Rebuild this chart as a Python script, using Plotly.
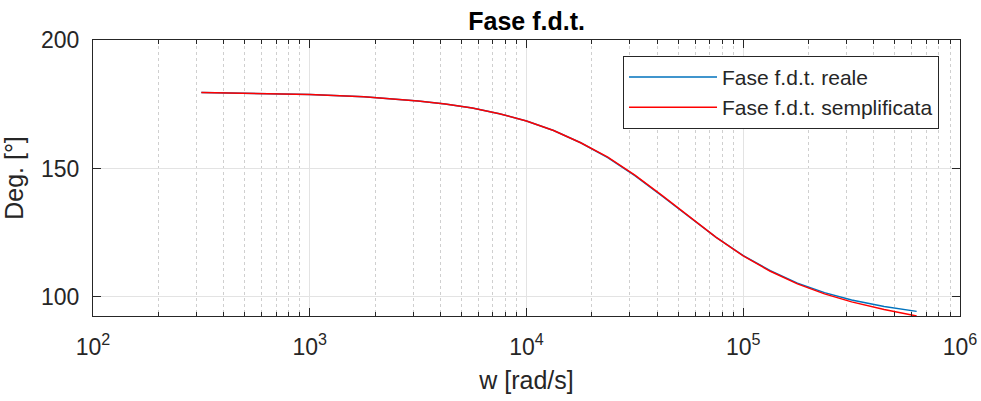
import plotly.graph_objects as go

# Frequencies (rad/s)
w = [316, 562, 1000, 1778, 3162, 4217, 5623, 7499, 10000, 13335, 17783,
     23714, 31623, 42170, 56234, 74989, 100000, 133352, 177828, 237137,
     316228, 446684, 630957]

# Phase of the real transfer function (deg)
fase_reale = [179.6, 179.3, 178.8, 177.9, 176.3, 175.1, 173.5, 171.3, 168.5,
              164.8, 160.0, 154.2, 147.2, 139.3, 131.1, 123.2, 116.1, 110.2,
              105.4, 101.7, 98.8, 96.3, 94.4]

# Phase of the simplified transfer function (deg)
fase_sempl = [179.6, 179.3, 178.8, 177.9, 176.3, 175.1, 173.5, 171.3, 168.5,
              164.8, 160.0, 154.4, 147.4, 139.5, 131.2, 123.2, 116.0, 110.0,
              105.1, 101.2, 98.1, 95.1, 92.6]

x_tickvals = [1e2, 1e3, 1e4, 1e5, 1e6]
x_ticktext = ["10<sup>2</sup>", "10<sup>3</sup>", "10<sup>4</sup>",
              "10<sup>5</sup>", "10<sup>6</sup>"]
x_minor_vals = [m * d for d in [1e2, 1e3, 1e4, 1e5] for m in range(2, 10)]
y_tickvals = [100, 150, 200]

AX = "#262626"
FONT = "Liberation Sans, Arial, Helvetica, sans-serif"

fig = go.Figure()
fig.add_trace(go.Scatter(x=w, y=fase_reale, mode="lines",
                         name="Fase f.d.t. reale",
                         line=dict(color="#0072BD", width=1.5)))
# second series on the top twin axis (same log range) so the top frame
# carries major and minor tick marks as in the reference
fig.add_trace(go.Scatter(x=w, y=fase_sempl, mode="lines", xaxis="x2",
                         name="Fase f.d.t. semplificata",
                         line=dict(color="#FF0000", width=1.5)))

fig.update_layout(
    width=981, height=401,
    margin=dict(l=93, r=21, t=40, b=85),
    paper_bgcolor="white", plot_bgcolor="white",
    font=dict(family=FONT, color=AX, size=23),
    title=dict(text="<b>Fase f.d.t.</b>", x=0.5368, xanchor="center",
               y=0.925, yanchor="bottom", font=dict(size=25, color="black")),
    showlegend=True,
    legend=dict(x=0.9758, xanchor="right", y=0.943, yanchor="top",
                bgcolor="white", bordercolor=AX, borderwidth=1,
                font=dict(size=21, color=AX), tracegroupgap=0,
                itemwidth=88),
    xaxis=dict(
        type="log", range=[2, 6], automargin=False,
        tickvals=x_tickvals, ticktext=x_ticktext,
        ticks="inside", ticklen=8, tickwidth=1, tickcolor=AX,
        showline=True, linecolor=AX, linewidth=1, mirror=True,
        showgrid=True, gridcolor="#e3e3e3", gridwidth=1,
        zeroline=False, ticklabelstandoff=10,
        minor=dict(tickmode="array", tickvals=x_minor_vals,
                   ticks="inside", ticklen=4, tickcolor=AX, showgrid=True,
                   gridcolor="#cfcfcf", griddash="dot", gridwidth=1),
        title=dict(text="w [rad/s]", font=dict(size=25, color=AX), standoff=12),
    ),
    xaxis2=dict(
        type="log", range=[2, 6], overlaying="x", side="top", anchor="y",
        automargin=False, showticklabels=False,
        tickvals=x_tickvals, ticks="inside", ticklen=8, tickwidth=1,
        tickcolor=AX, showgrid=False, showline=False, zeroline=False,
        minor=dict(tickmode="array", tickvals=x_minor_vals,
                   ticks="inside", ticklen=4, tickcolor=AX, tickwidth=1,
                   showgrid=False),
    ),
    yaxis=dict(
        range=[92.6, 200], automargin=False,
        tickvals=y_tickvals,
        ticks="inside", ticklen=8, tickwidth=1, tickcolor=AX,
        showline=True, linecolor=AX, linewidth=1, mirror="ticks",
        showgrid=True, gridcolor="#e3e3e3", gridwidth=1,
        zeroline=False, ticklabelstandoff=8,
        title=dict(text="Deg. [°]", font=dict(size=25, color=AX), standoff=10),
    ),
)

fig.write_html("out.html")
